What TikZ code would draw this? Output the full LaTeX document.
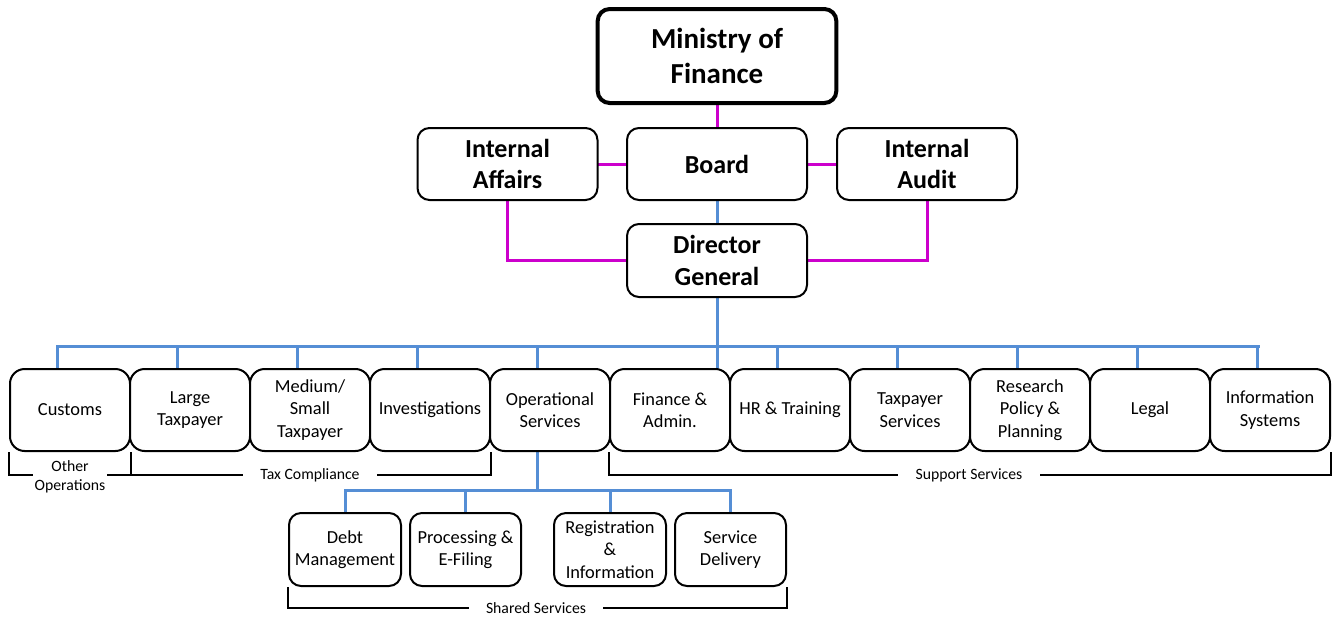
\documentclass[tikz,border=0pt]{standalone}
\usepackage{fontspec}
\setmainfont{Carlito}
\usetikzlibrary{backgrounds}
\definecolor{magline}{RGB}{204,0,204}
\definecolor{blueline}{RGB}{85,142,213}
\begin{document}
\begin{tikzpicture}[x=0.75pt,y=-0.75pt,
 box/.style={draw=black,line width=1.5pt,rounded corners=9pt,align=center,inner sep=0pt,fill=white},
 topbox/.style={box,font=\fontsize{19.5}{23.8}\selectfont\bfseries,minimum width=135pt,minimum height=54pt},
 unitbox/.style={box,rounded corners=11pt,font=\fontsize{13.8}{16.8}\selectfont,minimum width=90pt,minimum height=61.5pt},
 subbox/.style={box,font=\fontsize{13.8}{16.8}\selectfont,minimum height=54.75pt},
 mag/.style={draw=magline,line width=2.25pt,line cap=rect},
 blu/.style={draw=blueline,line width=2.25pt,line cap=rect},
 brk/.style={draw=black,line width=1.3pt},
 lab/.style={fill=white,font=\fontsize{11.8}{14.4}\selectfont,inner ysep=1pt,inner xsep=13pt,align=center}]

\useasboundingbox (0,0) rectangle (1333,619);

% top tiers
\node[box,line width=3pt,font=\fontsize{21.75}{26.5}\selectfont\bfseries,minimum width=179pt,minimum height=70.5pt] (mof) at (717,56) {Ministry of\\Finance};
\node[topbox] (ia) at (507.5,164) {Internal\\Affairs};
\node[topbox] (board) at (717,164) {Board};
\node[topbox] (iaud) at (927,164) {Internal\\Audit};
\node[topbox,minimum height=54.75pt] (dg) at (717,260.5) {Director\\General};

% unit row
\node[unitbox] (cust)  at (70,410)   {Customs};
\node[unitbox] (large) at (190,410)  {Large\\Taxpayer};
\node[unitbox] (med)   at (310,410)  {Medium/\\Small\\Taxpayer};
\node[unitbox] (inv)   at (430,410)  {Investigations};
\node[unitbox] (ops)   at (550,410)  {Operational\\Services};
\node[unitbox] (fin)   at (670,410)  {Finance \&\\Admin.};
\node[unitbox] (hr)    at (790,410)  {HR \& Training};
\node[unitbox] (tps)   at (910,410)  {Taxpayer\\Services};
\node[unitbox] (rpp)   at (1030,410) {Research\\Policy \&\\Planning};
\node[unitbox] (legal) at (1150,410) {Legal};
\node[unitbox] (isys)  at (1270,410) {Information\\Systems};

% shared services row
\node[subbox,minimum width=84pt]   (debt) at (345,549.5)   {Debt\\Management};
\node[subbox,minimum width=83.25pt] (proc) at (465.5,549.5) {Processing \&\\E-Filing};
\node[subbox,minimum width=84pt]   (reg)  at (610,549.5)   {Registration\\\&\\Information};
\node[subbox,minimum width=83.25pt] (sd)   at (730.5,549.5) {Service\\Delivery};

\coordinate (busL) at (57,346);
\coordinate (busR) at (1258,346);
\coordinate (sbus) at (0,490);
\coordinate (bk) at (0,475);
\coordinate (bk2) at (0,608);

\begin{scope}[on background layer]
 % magenta links
 \draw[mag] (mof.south) -- (board.north);
 \draw[mag] (ia) -- (board);
 \draw[mag] (board) -- (iaud);
 \draw[mag] (ia.south) |- (dg.west);
 \draw[mag] (iaud.south) |- (dg.east);
 % blue links
 \draw[blu] (board.south) -- (dg.north);
 \draw[blu] (dg.south) -- (dg.south |- fin.north);
 \draw[blu] (busL) -- (busR);
 \foreach \n in {cust,large,med,inv,ops,hr,tps,rpp,legal,isys}
   \draw[blu] ([xshift=-9.75pt]\n.north) -- ([xshift=-9.75pt]\n.north |- busL);
 \draw[blu] ([xshift=-9.75pt]ops.south) -- ([xshift=-9.75pt]ops.south |- sbus);
 \draw[blu] (debt.north |- sbus) -- (sd.north |- sbus);
 \foreach \n in {debt,proc,reg,sd}
   \draw[blu] (\n.north) -- (\n.north |- sbus);
\end{scope}

% brackets
\draw[brk] (cust.south west) -- (cust.south west |- bk) -- (cust.south east |- bk) -- (cust.south east);
\draw[brk] (large.south west |- bk) -- (inv.south east |- bk) -- (inv.south east);
\draw[brk] (fin.south west) -- (fin.south west |- bk) -- (isys.south east |- bk) -- (isys.south east);
\draw[brk] (debt.south west) -- (debt.south west |- bk2) -- (sd.south east |- bk2) -- (sd.south east);

\node[lab,inner xsep=1pt] (oo) at (70,477) {Other\\Operations};
\node[lab] (tc) at (310,475) {Tax Compliance};
\node[lab] (sups) at (969,475) {Support Services};
\node[lab] (shs) at (536,608) {Shared Services};
\end{tikzpicture}
\end{document}
